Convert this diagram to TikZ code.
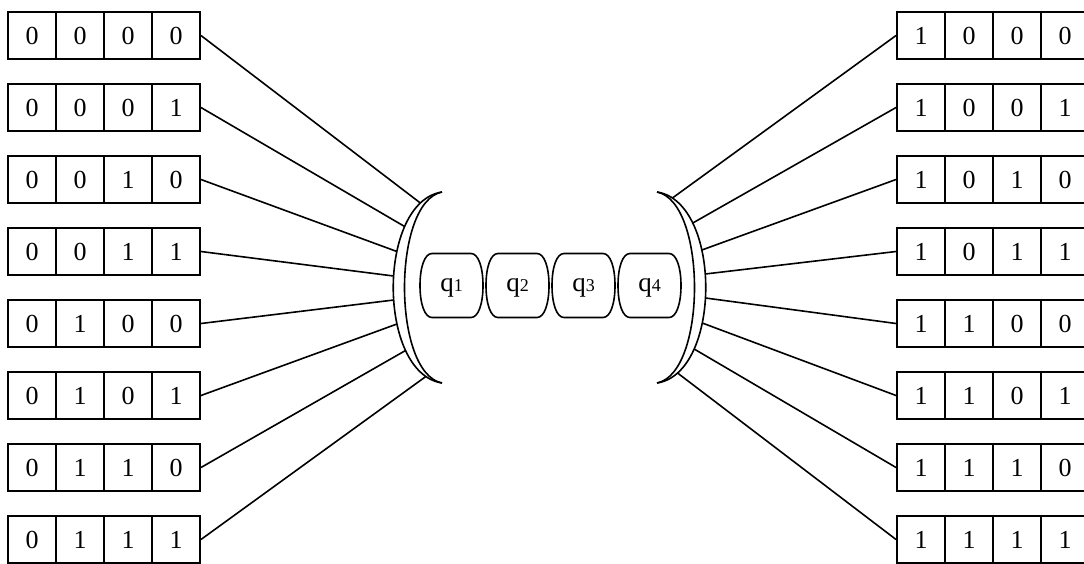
\documentclass[tikz,border=0pt]{standalone}
\usepackage{fontspec}
\setmainfont{Liberation Serif}
\usetikzlibrary{intersections}
\begin{document}
\begin{tikzpicture}[x=1pt,y=-1pt,
  cell/.style={draw, line width=1.9pt, minimum width=48pt, minimum height=47pt, inner sep=0pt, font=\fontsize{26}{26}\selectfont},
  conn/.style={line width=1.6pt},
  brack/.style={line width=1.6pt},
  qbox/.style={line width=1.6pt},
  qlabel/.style={inner sep=0pt, font=\fontsize{27}{27}\selectfont},
  qsub/.style={font=\fontsize{18}{18}\selectfont}]
\clip (0,0) rectangle (1084,563);
% brackets
\draw[brack, name path global=outerL] (442,192) .. controls (377,202) and (377,373) .. (442,383);
\draw[brack] (442,192) .. controls (392,202) and (392,373) .. (442,383);
\draw[brack, name path global=outerR] (657,192) .. controls (722,202) and (722,373) .. (657,383);
\draw[brack] (657,192) .. controls (707,202) and (707,373) .. (657,383);
% register boxes
\foreach \r in {0,...,7}{
  \pgfmathtruncatemacro{\ba}{mod(floor(\r/4),2)}
  \pgfmathtruncatemacro{\bb}{mod(floor(\r/2),2)}
  \pgfmathtruncatemacro{\bc}{mod(\r,2)}
  \pgfmathsetmacro{\yy}{35.5+72*\r}
  \node[cell] (L\r-0) at (32,\yy) {0};
  \node[cell] (L\r-1) at (80,\yy) {\ba};
  \node[cell] (L\r-2) at (128,\yy) {\bb};
  \node[cell] (L\r-3) at (176,\yy) {\bc};
  \node[cell] (R\r-0) at (921,\yy) {1};
  \node[cell] (R\r-1) at (969,\yy) {\ba};
  \node[cell] (R\r-2) at (1017,\yy) {\bb};
  \node[cell] (R\r-3) at (1065,\yy) {\bc};
}
% connectors
\foreach \r/\yl/\yr in {0/203/198,1/226.5/223,2/251.5/250,3/276/274,4/300/298,5/324/323,6/350.5/349,7/376.5/373}{
  \path[name path global=hl\r] (350,\yl) -- (450,\yl);
  \path[name intersections={of=outerL and hl\r, by={BL\r}}];
  \path[name path global=hr\r] (640,\yr) -- (760,\yr);
  \path[name intersections={of=outerR and hr\r, by={BR\r}}];
  \draw[conn] (L\r-3.east) -- (BL\r);
  \draw[conn] (R\r-0.west) -- (BR\r);
}
% qubits
\foreach \i/\x in {1/451.5,2/517.5,3/583.5,4/649.5}{
  \node[qlabel] (q\i) at (\x,288) {q{\fontsize{18}{18}\selectfont\i}};
  \draw[qbox, shift={(\x,285.5)}] (-19.5,-32) -- (19.5,-32)
     .. controls (27,-32) and (31.5,-18) .. (31.5,0)
     .. controls (31.5,18) and (27,32) .. (19.5,32)
     -- (-19.5,32)
     .. controls (-27,32) and (-31.5,18) .. (-31.5,0)
     .. controls (-31.5,-18) and (-27,-32) .. (-19.5,-32) -- cycle;
}
\end{tikzpicture}
\end{document}
